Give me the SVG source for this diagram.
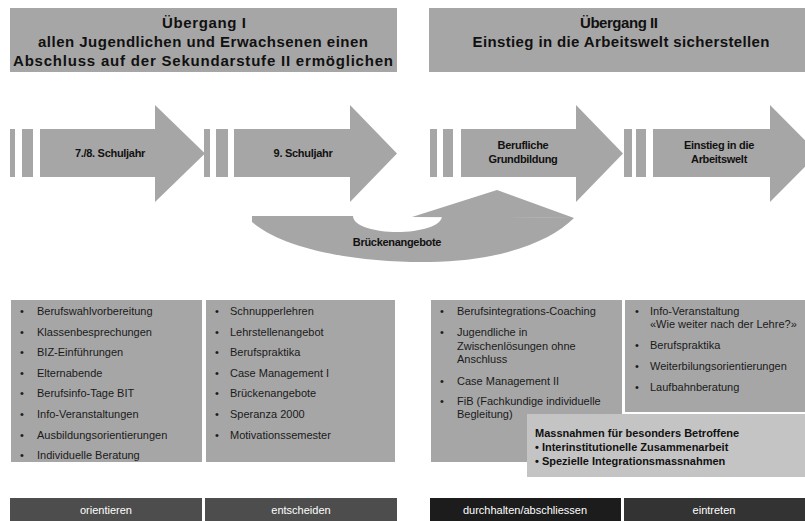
<svg xmlns="http://www.w3.org/2000/svg" width="805" height="521" viewBox="0 0 805 521">
<defs>
<style>
.g{fill:#a6a6a6}
.lt{fill:#c4c4c4}
.h{font-family:"Liberation Sans",Arial,sans-serif;font-size:15px;font-weight:bold;fill:#111;text-anchor:middle}
.a{font-family:"Liberation Sans",Arial,sans-serif;font-size:11px;font-weight:bold;fill:#111;text-anchor:middle;letter-spacing:-0.3px}
.l{font-family:"Liberation Sans",Arial,sans-serif;font-size:11px;fill:#1a1a1a}
.b{font-family:"Liberation Sans",Arial,sans-serif;font-size:11px;font-weight:bold;fill:#111}
.f{font-family:"Liberation Sans",Arial,sans-serif;font-size:11px;fill:#fff;text-anchor:middle}
</style>
</defs>
<rect width="805" height="521" fill="#fff"/>
<g id="header1">
<rect class="g" x="10" y="8" width="387" height="64"/>
<text class="h" x="204" y="28" textLength="84" lengthAdjust="spacing">Übergang I</text>
<text class="h" x="203" y="47" textLength="330" lengthAdjust="spacing">allen Jugendlichen und Erwachsenen einen</text>
<text class="h" x="203" y="66" textLength="380" lengthAdjust="spacing">Abschluss auf der Sekundarstufe II ermöglichen</text>
</g>
<g id="header2">
<rect class="g" x="429" y="8" width="376" height="64"/>
<text class="h" x="619" y="28" textLength="78" lengthAdjust="spacing">Übergang II</text>
<text class="h" x="621" y="47" textLength="297" lengthAdjust="spacing">Einstieg in die Arbeitswelt sicherstellen</text>
</g>
<g id="bridge">
<path class="g" d="M252,216 L353,216 C353,226 375,232 397,232 C420,232 442,226 442,216 L574,218 C550,242 500,261 430,262 C360,263 285,250 252,222 Z"/>
<path class="g" d="M412,217 L497,190 L574,218 Z"/>
<text class="a" x="397" y="246">Brückenangebote</text>
</g>
<g id="arrow1">
<rect class="g" x="10" y="129" width="5" height="48"/>
<rect class="g" x="22" y="129" width="11" height="48"/>
<path class="g" d="M40,129 H155 V105 L205,153.5 L155,202 V177 H40 Z"/>
<text class="a" x="110" y="157">7./8. Schuljahr</text>
</g>
<g id="arrow2">
<rect class="g" x="204" y="129" width="6" height="48"/>
<rect class="g" x="216" y="129" width="12" height="48"/>
<path class="g" d="M234,129 H350 V105 L397,153.5 L350,202 V177 H234 Z"/>
<text class="a" x="303" y="157">9. Schuljahr</text>
</g>
<g id="arrow3">
<rect class="g" x="430" y="129" width="7" height="48"/>
<rect class="g" x="443" y="129" width="10" height="48"/>
<path class="g" d="M461,129 H576 V105 L623,153.5 L576,202 V177 H461 Z"/>
<text class="a" x="523" y="149">Berufliche</text>
<text class="a" x="523" y="163">Grundbildung</text>
</g>
<g id="arrow4">
<rect class="g" x="624" y="129" width="8" height="48"/>
<rect class="g" x="636" y="129" width="10" height="48"/>
<path class="g" d="M653,129 H770 V105 L818,153.5 L770,202 V177 H653 Z"/>
<text class="a" x="719" y="149">Einstieg in die</text>
<text class="a" x="719" y="163">Arbeitswelt</text>
</g>
<g id="list1">
<rect class="g" x="11" y="300" width="191" height="162"/>
<g class="l">
<text x="20" y="315">•</text><text x="37" y="315">Berufswahlvorbereitung</text>
<text x="20" y="336">•</text><text x="37" y="336">Klassenbesprechungen</text>
<text x="20" y="356">•</text><text x="37" y="356">BIZ-Einführungen</text>
<text x="20" y="377">•</text><text x="37" y="377">Elternabende</text>
<text x="20" y="397">•</text><text x="37" y="397">Berufsinfo-Tage BIT</text>
<text x="20" y="418">•</text><text x="37" y="418">Info-Veranstaltungen</text>
<text x="20" y="439">•</text><text x="37" y="439">Ausbildungsorientierungen</text>
<text x="20" y="459">•</text><text x="37" y="459">Individuelle Beratung</text>
</g>
</g>
<g id="list2">
<rect class="g" x="206" y="300" width="189" height="162"/>
<g class="l">
<text x="215" y="315">•</text><text x="230" y="315">Schnupperlehren</text>
<text x="215" y="336">•</text><text x="230" y="336">Lehrstellenangebot</text>
<text x="215" y="356">•</text><text x="230" y="356">Berufspraktika</text>
<text x="215" y="377">•</text><text x="230" y="377">Case Management I</text>
<text x="215" y="397">•</text><text x="230" y="397">Brückenangebote</text>
<text x="215" y="418">•</text><text x="230" y="418">Speranza 2000</text>
<text x="215" y="439">•</text><text x="230" y="439">Motivationssemester</text>
</g>
</g>
<g id="list3">
<rect class="g" x="431" y="300" width="191" height="162"/>
<g class="l">
<text x="440" y="315">•</text><text x="457" y="315">Berufsintegrations-Coaching</text>
<text x="440" y="336">•</text><text x="457" y="336">Jugendliche in</text>
<text x="457" y="350">Zwischenlösungen ohne</text>
<text x="457" y="363">Anschluss</text>
<text x="440" y="385">•</text><text x="457" y="385">Case Management II</text>
<text x="440" y="405">•</text><text x="457" y="405">FiB (Fachkundige individuelle</text>
<text x="457" y="418">Begleitung)</text>
</g>
</g>
<g id="list4">
<rect class="g" x="625" y="300" width="180" height="112"/>
<g class="l">
<text x="635" y="315">•</text><text x="650" y="315">Info-Veranstaltung</text>
<text x="650" y="328">«Wie weiter nach der Lehre?»</text>
<text x="635" y="349">•</text><text x="650" y="349">Berufspraktika</text>
<text x="635" y="370">•</text><text x="650" y="370">Weiterbilungsorientierungen</text>
<text x="635" y="391">•</text><text x="650" y="391">Laufbahnberatung</text>
</g>
</g>
<g id="special">
<rect class="lt" x="527" y="414" width="278" height="63"/>
<text class="b" x="535" y="437">Massnahmen für besonders Betroffene</text>
<text class="b" x="535" y="451">• Interinstitutionelle Zusammenarbeit</text>
<text class="b" x="535" y="465">• Spezielle Integrationsmassnahmen</text>
</g>
<g id="phase1"><rect x="10" y="498" width="192" height="23" fill="#4d4d4d"/><text class="f" x="106" y="514">orientieren</text></g>
<g id="phase2"><rect x="205" y="498" width="192" height="23" fill="#4d4d4d"/><text class="f" x="301" y="514">entscheiden</text></g>
<g id="phase3"><rect x="430" y="498" width="191" height="23" fill="#1c1c1c"/><text class="f" x="525" y="514">durchhalten/abschliessen</text></g>
<g id="phase4"><rect x="624" y="498" width="181" height="23" fill="#333333"/><text class="f" x="714" y="514">eintreten</text></g>
</svg>
